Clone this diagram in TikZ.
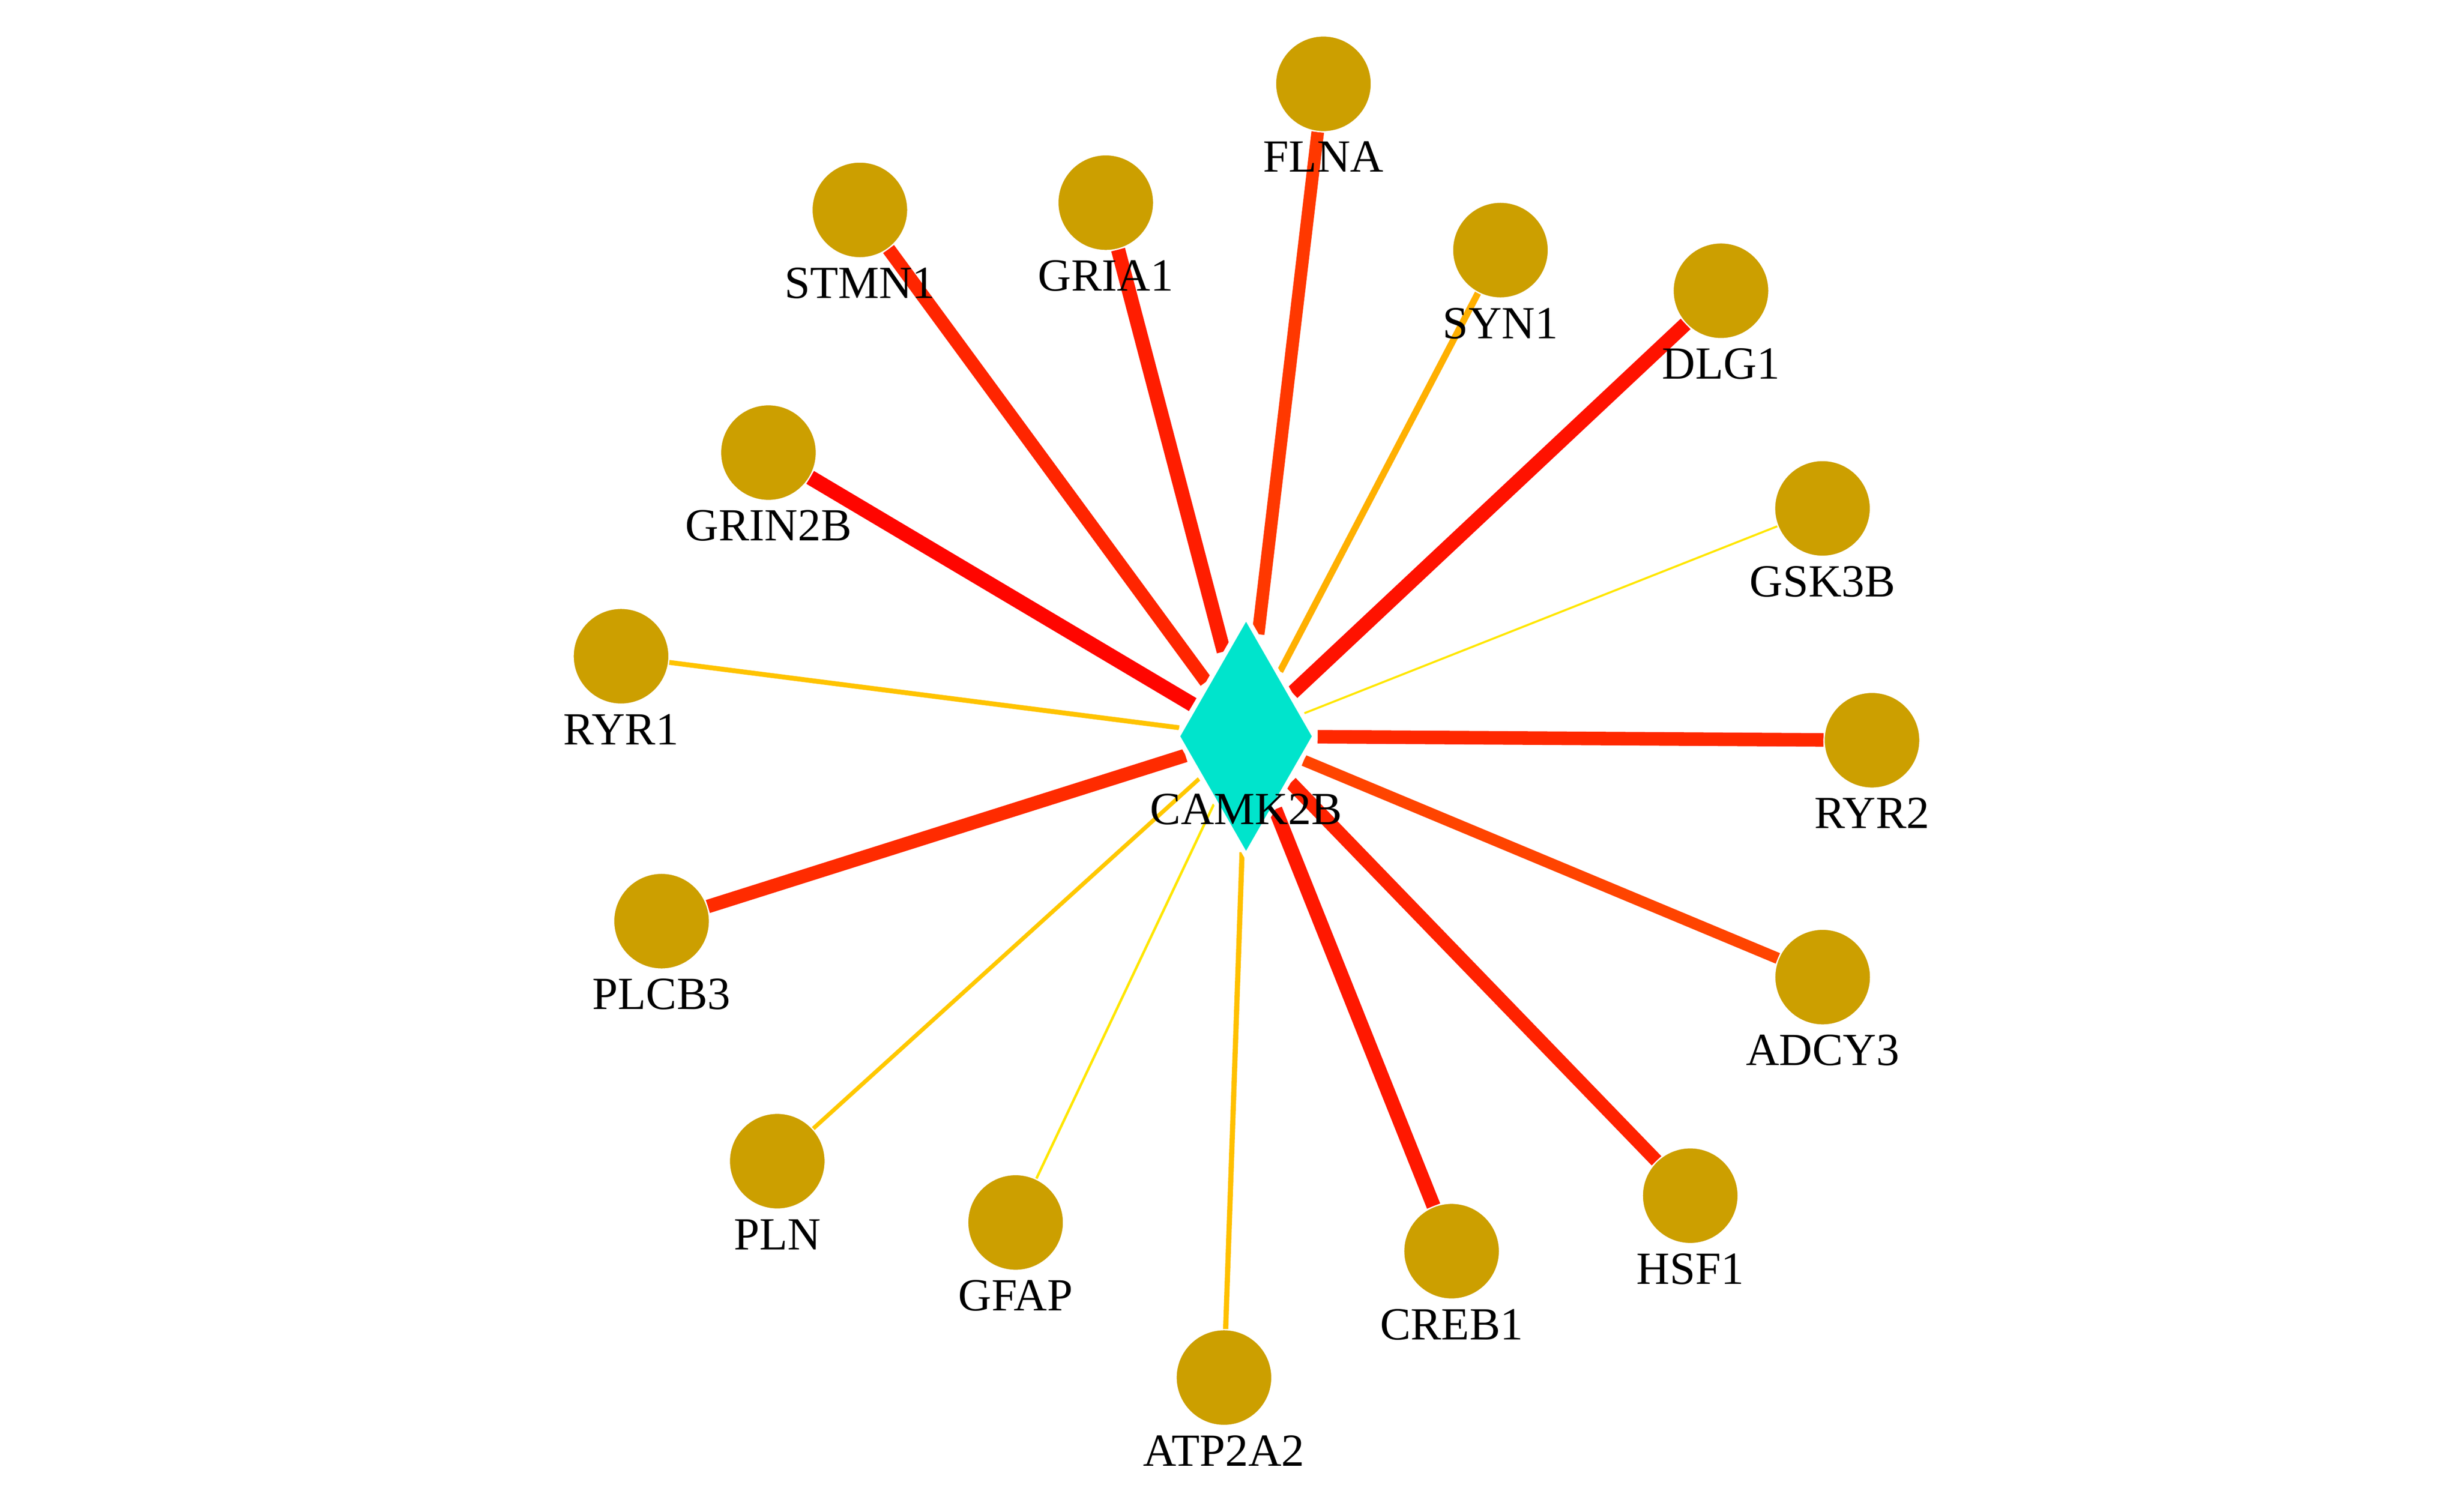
\documentclass[tikz,border=0pt]{standalone}
\usepackage{fontspec}
\setmainfont{Liberation Serif}
\usetikzlibrary{shapes.geometric,backgrounds}
\definecolor{genegold}{RGB}{204,159,0}
\definecolor{hubcyan}{RGB}{0,228,204}
\begin{document}
\begin{tikzpicture}
	[x=0.5pt,y=-0.5pt,
	gene/.style={circle,fill=genegold,draw=white,line width=0.4pt,minimum size=30.4pt,inner sep=0pt},
	hub/.style={diamond,fill=hubcyan,draw=white,line width=1.5pt,minimum width=44.1pt,minimum height=76.4pt,inner sep=0pt},
	gtext/.style={font=\fontsize{14.6}{17}\selectfont,anchor=base,inner sep=0pt}]
	\useasboundingbox (0,0) rectangle (1560,959.15);
	\node[hub] (camk2b) at (790.5,467.2) {};
	\node[gtext] (camk2b-t) at ([yshift=-28pt]camk2b.center) {CAMK2B};
	\foreach \n/\x/\y/\t in {flna/839.6/53.2/FLNA, stmn1/545.5/133.2/STMN1, gria1/701.5/128.6/GRIA1,
		syn1/951.9/158.7/SYN1, dlg1/1091.8/184.5/DLG1, grin2b/487.5/287.2/GRIN2B,
		gsk3b/1156.2/322.6/GSK3B, ryr1/394.0/416.4/RYR1, ryr2/1187.6/469.7/RYR2,
		plcb3/419.7/584.5/PLCB3, adcy3/1156.3/620.0/ADCY3, pln/493.1/736.8/PLN,
		hsf1/1072.3/758.7/HSF1, gfap/644.3/775.7/GFAP, creb1/920.9/793.9/CREB1,
		atp2a2/776.5/874.1/ATP2A2}
	{
		\node[gene] (\n) at (\x,\y) {};
		\node[gtext] (\n-t) at ([yshift=-28pt]\n.center) {\t};
	}
	\begin{pgfonlayer}{background}
		\foreach \n/\w/\g in {grin2b/4.75/5, dlg1/4.55/18, gria1/4.5/29, creb1/4.5/24,
			stmn1/4.3/37, ryr2/4.3/40, plcb3/4.3/43, hsf1/4.25/34, flna/4.0/56,
			adcy3/3.6/68, syn1/2.1/176, atp2a2/1.65/192, ryr1/1.55/195,
			pln/1.3/200, gfap/0.8/230, gsk3b/0.65/230}
			\draw[line width=\w pt,draw={rgb,255:red,255;green,\g;blue,0}] (camk2b) -- (\n);
	\end{pgfonlayer}
\end{tikzpicture}
\end{document}
